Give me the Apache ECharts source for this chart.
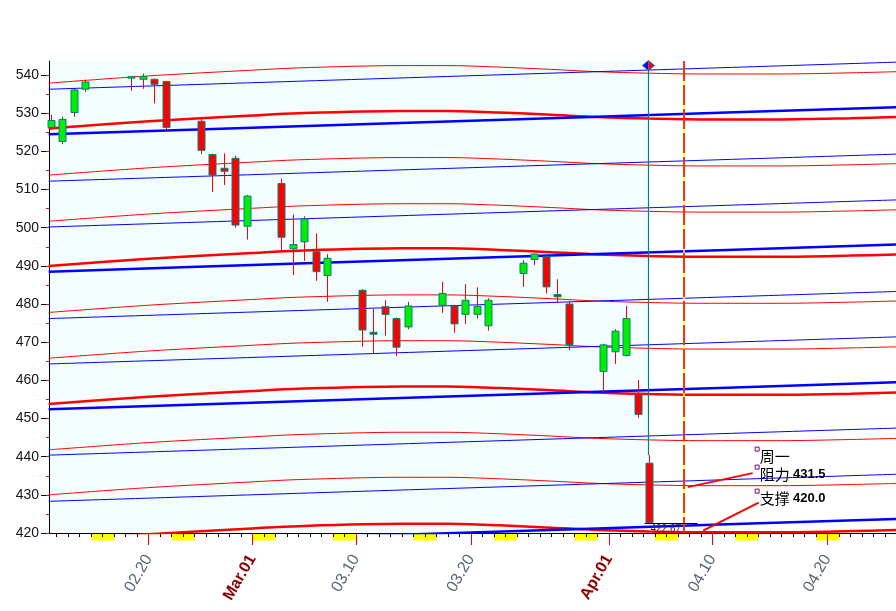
<!DOCTYPE html>
<html><head><meta charset="utf-8">
<script src="https://cdn.jsdelivr.net/npm/echarts@6/dist/echarts.min.js"></script>
<style>html,body{margin:0;padding:0;background:#fff}#c{width:896px;height:611px}</style>
</head><body><div id="c"></div>
<script>
// ---------- data ----------
const candleDates = ['2025-02-11','2025-02-12','2025-02-13','2025-02-14','2025-02-18','2025-02-19','2025-02-20','2025-02-21',
  '2025-02-24','2025-02-25','2025-02-26','2025-02-27','2025-02-28','2025-03-03','2025-03-04','2025-03-05','2025-03-06','2025-03-07',
  '2025-03-10','2025-03-11','2025-03-12','2025-03-13','2025-03-14','2025-03-17','2025-03-18','2025-03-19','2025-03-20','2025-03-21',
  '2025-03-24','2025-03-25','2025-03-26','2025-03-27','2025-03-28','2025-03-31','2025-04-01','2025-04-02','2025-04-03','2025-04-04'];
const opens  = [526.3,522.6,530.2,536.3,539.4,538.9,538.9,538.3, 527.9,519.2,515.6,518.2,500.4,511.6,494.5,496.3,493.7,487.5,
  483.6,472.6,479.3,476.2,474.0,479.7,479.5,477.3,477.3,474.3, 488.0,491.7,492.4,482.5,480.0,462.3,467.5,466.5,456.6,438.3];
const closes = [528.1,528.4,536.1,538.2,539.6,539.6,537.6,526.3, 520.3,513.8,514.8,500.7,508.3,497.5,495.6,502.3,488.5,492.0,
  473.2,472.1,477.3,468.7,479.5,482.8,474.8,481.0,479.4,481.0, 490.7,493.1,484.5,481.9,469.4,469.3,472.9,476.2,451.1,422.67];
const lows   = [525.6,521.9,529.1,535.6,535.9,536.4,532.6,525.6, 519.3,509.4,511.2,500.0,496.9,493.7,487.6,491.3,486.1,480.6,
  468.8,467.1,471.7,466.4,473.4,477.7,472.5,474.8,476.2,473.0, 484.5,490.2,482.8,480.3,467.9,457.0,464.3,466.3,450.2,422.6];
const highs  = [529.6,529.1,536.4,538.8,539.8,540.4,539.1,538.5, 528.8,519.4,519.5,518.9,508.6,512.9,503.5,503.0,498.5,493.1,
  483.9,478.7,481.0,476.5,480.6,485.8,479.8,485.2,484.4,481.5, 491.5,493.3,493.0,486.5,480.8,469.6,473.4,479.5,460.1,440.4];

// channel lines: level at the left edge + common shape offsets
const redLevels  = [537.9,526.0,513.8,501.7,490.0,477.8,465.8,453.8,441.8,430.0,417.8];
const blueLevels = [536.3,524.5,512.2,500.2,488.5,476.2,464.3,452.4,440.4,428.3,416.6];
const lineThick  = [0,1,0,0,1,0,0,1,0,0,1];
const redShapeDay = [10.3,19,28,32,41,45,49.5,54,58,62.5,67,74,80,84];
const redShapeOff = [0,1.9,3.4,4.0,4.6,4.6,4.2,3.6,3.0,2.6,2.4,2.4,2.7,3.0];
const blueShapeDay = [10.3,32,58,84];
const blueShapeOff = [0,2.1,4.6,7.1];

// axis labels
const tickDates  = ['2025-02-20','2025-03-01','2025-03-10','2025-03-20','2025-04-01','2025-04-10','2025-04-20'];
const tickLabels = ['02.20','Mar.01','03.10','03.20','Apr.01','04.10','04.20'];
const monthStart = [false,true,false,false,true,false,false];
const weekendStarts = ['2025-02-08','2025-02-15','2025-02-22','2025-03-01','2025-03-08','2025-03-15','2025-03-22','2025-03-29','2025-04-05','2025-04-12','2025-04-19'];
const yTicks = [420,430,440,450,460,470,480,490,500,510,520,530,540];
const yMinorTicks = [420,425,430,435,440,445,450,455,460,465,470,475,480,485,490,495,500,505,510,515,520,525,530,535,540];

// annotations
const noteDate = '2025-04-07';
const noteWeekday = '周一';
const resistLabel = '阻力', resistValue = 431.5;
const supportLabel = '支撑', supportValue = 420.0;
const lastLabel = '422.67';

// ---------- helpers ----------
const DAY0 = Date.UTC(2025,1,1);
const dayIdx = s => (Date.parse(s + 'T00:00:00Z') - DAY0) / 86400000;
const X_MIN = 10.33, X_MAX = 83.96, Y_MIN = 420, Y_MAX = 543.7;

const candleData = candleDates.map((d,i)=>[dayIdx(d), opens[i], closes[i], lows[i], highs[i]]);
const tickDays = tickDates.map(dayIdx);
const dayTicks = [];
for (let d = Math.ceil(X_MIN); d <= X_MAX; d++) dayTicks.push(d);
const lastDay = dayIdx(candleDates[candleDates.length-1]);
const lastHigh = highs[highs.length-1];
const lastClose = closes[closes.length-1];

const lineSeries = [];
redLevels.forEach((lv,i)=>{
  lineSeries.push({type:'line', xAxisIndex:0, yAxisIndex:0, data: redShapeDay.map((d,k)=>[d, lv + redShapeOff[k]]),
    showSymbol:false, smooth:0.3, silent:true, z:3, lineStyle:{color:'#ff0000', width: lineThick[i]?2.5:1}});
});
blueLevels.forEach((lv,i)=>{
  lineSeries.push({type:'line', xAxisIndex:0, yAxisIndex:0, data: blueShapeDay.map((d,k)=>[d, lv + blueShapeOff[k]]),
    showSymbol:false, smooth:0.3, silent:true, z:3, lineStyle:{color:'#0000ff', width: lineThick[i]?2.5:1}});
});

const FONT = '"Liberation Sans", Arial, sans-serif';
const CJK = '"Noto Sans CJK SC", sans-serif';

const chart = echarts.init(document.getElementById('c'));
chart.setOption({
  animation:false,
  backgroundColor:'#ffffff',
  grid:{left:49, right:0, top:61, bottom:78, outerBoundsMode:'none', containLabel:false},
  xAxis:[
    {type:'value', min:X_MIN, max:X_MAX, position:'bottom',
     axisLine:{show:true, lineStyle:{color:'#000', width:1}},
     axisTick:{show:true, customValues:dayTicks, length:4, lineStyle:{color:'#000'}},
     axisLabel:{show:false}, splitLine:{show:false}},
    {type:'value', min:X_MIN, max:X_MAX, position:'bottom',
     axisLine:{show:false},
     axisTick:{show:true, customValues:tickDays, length:12, lineStyle:{color:'#ee0000', width:1}},
     axisLabel:{show:true, customValues:tickDays, rotate:60, margin:23,
       formatter:(v)=>{const i = tickDays.indexOf(v); if(i<0) return ''; return monthStart[i] ? '{m|'+tickLabels[i]+'}' : '{d|'+tickLabels[i]+'}';},
       rich:{m:{color:'#8b0000', fontWeight:'bold', fontSize:16, fontFamily:FONT},
             d:{color:'#56667a', fontSize:16, fontFamily:FONT}}},
     splitLine:{show:false}}
  ],
  yAxis:[
    {type:'value', min:Y_MIN, max:Y_MAX, position:'left',
     axisLine:{show:true, lineStyle:{color:'#000', width:1}},
     axisTick:{show:true, customValues:yTicks, length:8, lineStyle:{color:'#000'}},
     axisLabel:{show:true, customValues:yTicks, margin:10, color:'#151515', fontSize:14, fontFamily:FONT},
     splitLine:{show:false}},
    {type:'value', min:Y_MIN, max:Y_MAX, position:'left',
     axisLine:{show:false},
     axisTick:{show:true, customValues:yMinorTicks, length:3, lineStyle:{color:'#ff0000'}},
     axisLabel:{show:false}, splitLine:{show:false}}
  ],
  series:[
    // azure background of the data region
    {type:'custom', xAxisIndex:0, yAxisIndex:0, z:-2, silent:true, data:[[X_MIN, lastDay+0.5]],
     renderItem:(p,api)=>{
       const a = api.coord([api.value(0), Y_MAX]), b = api.coord([api.value(1), Y_MIN]);
       return {type:'rect', shape:{x:a[0], y:a[1], width:b[0]-a[0], height:b[1]-a[1]}, style:{fill:'#f3fdfd'}};
     }},
    // weekend blocks under the axis
    {type:'custom', xAxisIndex:0, yAxisIndex:0, z:-1, silent:true, clip:false, data:weekendStarts.map(d=>[dayIdx(d)]),
     renderItem:(p,api)=>{
       const d = api.value(0);
       const a = api.coord([Math.max(d, X_MIN), Y_MIN]), b = api.coord([Math.min(d+2, X_MAX), Y_MIN]);
       if (b[0] <= a[0]) return null;
       return {type:'rect', shape:{x:a[0], y:a[1]+0.5, width:b[0]-a[0], height:7}, style:{fill:'#ffff00'}};
     }},
    ...lineSeries,
    // dashed marker line on the note day
    {type:'custom', xAxisIndex:0, yAxisIndex:0, z:4, silent:true, data:[[dayIdx(noteDate)]],
     renderItem:(p,api)=>{
       const x = Math.round(api.coord([api.value(0)+0.5, Y_MAX])[0]);
       const t = api.coord([0, Y_MAX])[1], b = api.coord([0, Y_MIN])[1];
       return {type:'group', children:[
         {type:'line', shape:{x1:x, y1:t, x2:x, y2:b}, style:{stroke:'#ffff00', lineWidth:1.5}},
         {type:'line', shape:{x1:x, y1:t, x2:x, y2:b}, style:{stroke:'#ff0000', lineWidth:1.6, lineDash:[20,4]}}
       ]};
     }},
    // candles
    {type:'custom', xAxisIndex:0, yAxisIndex:0, z:5, silent:true, data:candleData,
     renderItem:(p,api)=>{
       const d = api.value(0), o = api.value(1), c = api.value(2), l = api.value(3), h = api.value(4);
       const x = Math.round(api.coord([d+0.5, o])[0]) + 0.5;
       const yo = api.coord([d, o])[1], yc = api.coord([d, c])[1];
       const yl = api.coord([d, l])[1], yh = api.coord([d, h])[1];
       const top = Math.min(yo,yc), bot = Math.max(yo,yc);
       const w = 7;
       return {type:'group', children:[
         {type:'line', shape:{x1:x, y1:yh, x2:x, y2:yl}, style:{stroke:'#ff0000', lineWidth:1}},
         {type:'rect', shape:{x:x-w/2, y:top, width:w, height:Math.max(bot-top,1.5)},
          style:{fill: c>=o ? '#00ee00' : '#ff0000', stroke:'#008080', lineWidth:1}}
       ]};
     }},
    // current-day marker: teal line, diamond, last price
    {type:'custom', xAxisIndex:0, yAxisIndex:0, z:6, silent:true, clip:false, data:[[lastDay, lastHigh, lastClose]],
     renderItem:(p,api)=>{
       const d = api.value(0);
       const x = Math.round(api.coord([d+0.5, Y_MAX])[0]) - 0.5;
       const top = api.coord([d, Y_MAX])[1];
       const yh = api.coord([d, api.value(1)])[1];
       const yc = Math.round(api.coord([d, api.value(2)])[1]) + 0.5;
       const cy = top + 4.5;
       return {type:'group', children:[
         {type:'line', shape:{x1:x, y1:cy+4, x2:x, y2:yh}, style:{stroke:'#008080', lineWidth:1.2}},
         {type:'polygon', shape:{points:[[x-6,cy],[x,cy-5],[x,cy+5]]}, style:{fill:'#0000ff'}},
         {type:'polygon', shape:{points:[[x,cy-5],[x+6,cy],[x,cy+5]]}, style:{fill:'#ff0000'}},
         {type:'polygon', shape:{points:[[x-6,cy],[x,cy-5],[x+6,cy],[x,cy+5]]}, style:{fill:'none', stroke:'#008080', lineWidth:1}},
         {type:'line', shape:{x1:x-4, y1:yc, x2:x+49, y2:yc}, style:{stroke:'#000', lineWidth:1}},
         {type:'text', style:{text:lastLabel, x:x+2, y:yc+1, fill:'#333', fontSize:10, fontFamily:FONT, verticalAlign:'top', align:'left'}}
       ]};
     }},
    // weekday / resistance / support annotation
    {type:'custom', xAxisIndex:0, yAxisIndex:0, z:7, silent:true, clip:false, data:[[dayIdx(noteDate), resistValue, supportValue]],
     renderItem:(p,api)=>{
       const d = api.value(0);
       const pr = api.coord([d+0.5, api.value(1)]);
       const ps = api.coord([d+0.5, api.value(2)]);
       const tx = pr[0] + 76;
       const sq = (y)=>({type:'rect', shape:{x:pr[0]+71.5, y:y, width:4, height:4}, style:{fill:'#ffffff', stroke:'#800080', lineWidth:1}});
       const rich = {c:{fontSize:15, fontFamily:CJK, fill:'#000'}, n:{fontSize:13, fontWeight:'bold', fontFamily:FONT, fill:'#000'}};
       return {type:'group', children:[
         {type:'line', shape:{x1:pr[0]+4, y1:pr[1]-2, x2:pr[0]+69, y2:pr[1]-16}, style:{stroke:'#ff0000', lineWidth:2}},
         {type:'line', shape:{x1:ps[0]+19.5, y1:ps[1]-2.3, x2:ps[0]+75, y2:ps[1]-30.3}, style:{stroke:'#ff0000', lineWidth:2}},
         sq(pr[1]-42), sq(pr[1]-24), sq(pr[1]),
         {type:'text', style:{text:'{c|'+noteWeekday+'}', rich, x:tx, y:pr[1]-33, verticalAlign:'middle', align:'left'}},
         {type:'text', style:{text:'{c|'+resistLabel+'} {n|'+resistValue.toFixed(1)+'}', rich, x:tx, y:pr[1]-15, verticalAlign:'middle', align:'left'}},
         {type:'text', style:{text:'{c|'+supportLabel+'} {n|'+supportValue.toFixed(1)+'}', rich, x:tx, y:pr[1]+9.5, verticalAlign:'middle', align:'left'}}
       ]};
     }}
  ]
});
</script></body></html>
